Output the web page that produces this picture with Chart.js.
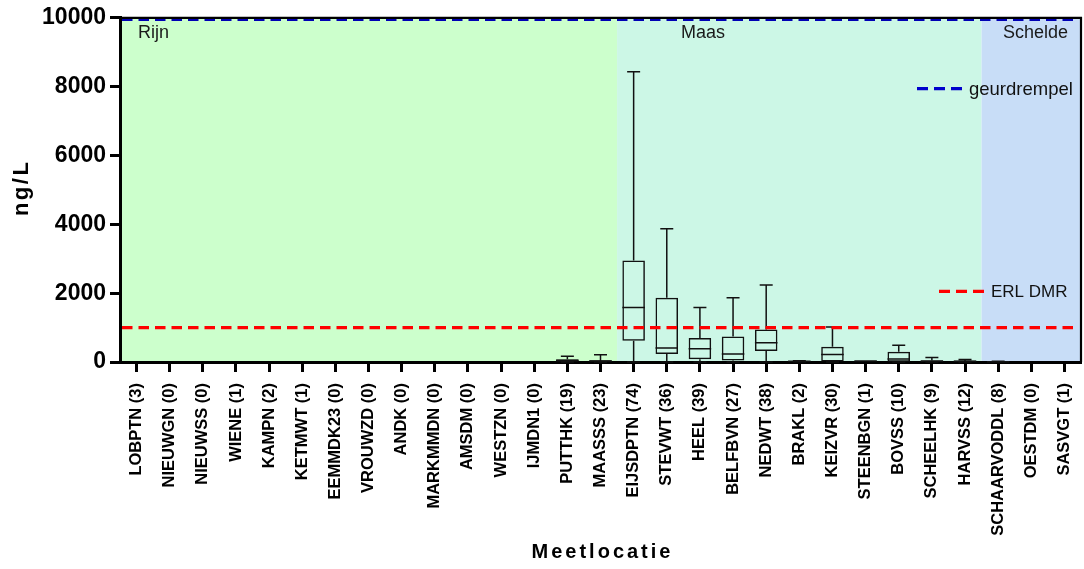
<!DOCTYPE html>
<html>
<head>
<meta charset="utf-8">
<title>Meetlocatie ng/L</title>
<script src="https://cdn.jsdelivr.net/npm/chart.js@4/dist/chart.umd.min.js"></script>
<style>
  html, body { margin: 0; padding: 0; background: #ffffff; }
  #wrap { width: 1084px; height: 569px; position: relative; }
</style>
</head>
<body>
<div id="wrap"><canvas id="chart"></canvas></div>
<script>
// Measuring locations (number of measurements in brackets)
const categories = [
  'LOBPTN (3)', 'NIEUWGN (0)', 'NIEUWSS (0)', 'WIENE (1)', 'KAMPN (2)', 'KETMWT (1)',
  'EEMMDK23 (0)', 'VROUWZD (0)', 'ANDK (0)', 'MARKMMDN (0)', 'AMSDM (0)', 'WESTZN (0)',
  'IJMDN1 (0)', 'PUTTHK (19)', 'MAASSS (23)', 'EIJSDPTN (74)', 'STEVWT (36)', 'HEEL (39)',
  'BELFBVN (27)', 'NEDWT (38)', 'BRAKL (2)', 'KEIZVR (30)', 'STEENBGN (1)', 'BOVSS (10)',
  'SCHEELHK (9)', 'HARVSS (12)', 'SCHAARVODDL (8)', 'OESTDM (0)', 'SASVGT (1)'
];

// Box plot statistics per location (ng/L); null = nothing to draw
const whiskerLow  = [null, null, null, null, null, null, null, null, null, null, null, null, null,
  0, 0, 0, 0, 0, 0, 0, 10, 0, 30, 0, 0, 0, 0, null, null];
const quartile1   = [null, null, null, null, null, null, null, null, null, null, null, null, null,
  10, 10, 615, 230, 80, 40, 320, 15, 15, 30, 10, 5, 10, 5, null, null];
const medians     = [null, null, null, null, null, null, null, null, null, null, null, null, null,
  40, 30, 1580, 410, 385, 230, 560, 20, 220, 30, 90, 20, 25, 10, null, null];
const quartile3   = [null, null, null, null, null, null, null, null, null, null, null, null, null,
  80, 50, 2950, 1870, 700, 740, 945, 30, 440, 30, 300, 50, 45, 20, null, null];
const whiskerHigh = [null, null, null, null, null, null, null, null, null, null, null, null, null,
  170, 210, 8430, 3870, 1580, 1870, 2240, 35, 1020, 30, 490, 130, 70, 25, null, null];

// River basins: name and first location index of each basin
const regionNames  = ['Rijn', 'Maas', 'Schelde'];
const regionStarts = [0, 15, 26];

// Reference levels (ng/L)
const erlDmr = 1000;
const geurdrempel = 10000;

// Y axis ticks
const yTicks = [0, 2000, 4000, 6000, 8000, 10000];

const FONT = '"Liberation Sans", Arial, Helvetica, sans-serif';
const regionColors = ['#ccffcc', '#ccf7e6', '#c8ddf7'];

function edgeAt(xs, area, k) {
  if (k <= 0) return area.left;
  if (k >= categories.length) return area.right;
  return (xs.getPixelForValue(k - 1) + xs.getPixelForValue(k)) / 2;
}

// Coloured basin bands behind everything
const basinBands = {
  id: 'basinBands',
  beforeDraw(chart) {
    const { ctx, chartArea: a, scales: { x } } = chart;
    ctx.save();
    regionNames.forEach((name, r) => {
      const x0 = edgeAt(x, a, regionStarts[r]);
      const x1 = edgeAt(x, a, r + 1 < regionStarts.length ? regionStarts[r + 1] : categories.length);
      ctx.fillStyle = regionColors[r];
      ctx.fillRect(x0, a.top, x1 - x0, a.bottom - a.top);
    });
    ctx.fillStyle = '#1a1a1a';
    ctx.font = '18px ' + FONT;
    ctx.textBaseline = 'middle';
    regionNames.forEach((name, r) => {
      const x0 = edgeAt(x, a, regionStarts[r]);
      const x1 = edgeAt(x, a, r + 1 < regionStarts.length ? regionStarts[r + 1] : categories.length);
      const ty = a.top + 15;
      if (r === 0) { ctx.textAlign = 'left'; ctx.fillText(name, x0 + 18, ty); }
      else if (r === regionNames.length - 1) { ctx.textAlign = 'right'; ctx.fillText(name, x1 - 13, ty); }
      else { ctx.textAlign = 'left'; ctx.fillText(name, x0 + 64, ty); }
    });
    ctx.restore();
  }
};

// Whiskers, medians, reference lines, labels and frame
const boxExtras = {
  id: 'boxExtras',
  afterDatasetsDraw(chart) {
    const { ctx, chartArea: a, scales: { y } } = chart;
    const meta = chart.getDatasetMeta(0);
    ctx.save();
    ctx.strokeStyle = '#111111';
    ctx.lineWidth = 1.5;
    meta.data.forEach((bar, i) => {
      if (quartile1[i] == null) return;
      const cx = bar.x, w = bar.width;
      const yHi = y.getPixelForValue(whiskerHigh[i]);
      const yQ3 = y.getPixelForValue(quartile3[i]);
      const yQ1 = y.getPixelForValue(quartile1[i]);
      const yLo = y.getPixelForValue(whiskerLow[i]);
      const yMed = y.getPixelForValue(medians[i]);
      ctx.beginPath();
      ctx.moveTo(cx, yHi); ctx.lineTo(cx, yQ3);
      ctx.moveTo(cx, yQ1); ctx.lineTo(cx, yLo);
      ctx.moveTo(cx - 6.5, yHi); ctx.lineTo(cx + 6.5, yHi);
      ctx.moveTo(cx - 6.5, yLo); ctx.lineTo(cx + 6.5, yLo);
      ctx.moveTo(cx - w / 2, yMed); ctx.lineTo(cx + w / 2, yMed);
      ctx.stroke();
    });

    // reference levels
    ctx.lineWidth = 3.2;
    ctx.setLineDash([10.5, 6]);
    ctx.strokeStyle = '#ff0000';
    const yErl = y.getPixelForValue(erlDmr);
    ctx.beginPath(); ctx.moveTo(a.left + 2, yErl); ctx.lineTo(a.right - 4, yErl); ctx.stroke();
    ctx.strokeStyle = '#0000b4';
    const yGeur = y.getPixelForValue(geurdrempel) + 1.5;
    ctx.beginPath(); ctx.moveTo(a.left + 2, yGeur); ctx.lineTo(a.right - 4, yGeur); ctx.stroke();

    // in-plot keys for the reference levels
    ctx.setLineDash([11, 6]);
    ctx.textAlign = 'left';
    ctx.textBaseline = 'middle';
    const keys = [
      { text: 'geurdrempel', color: '#0000cc', y: y.getPixelForValue(7940), textX: a.right - 112, size: 18.5 },
      { text: 'ERL DMR', color: '#ff0000', y: y.getPixelForValue(2050), textX: a.right - 90, size: 17 }
    ];
    keys.forEach(k => {
      ctx.strokeStyle = k.color;
      ctx.beginPath(); ctx.moveTo(k.textX - 52, k.y); ctx.lineTo(k.textX - 6, k.y); ctx.stroke();
      ctx.fillStyle = '#111111';
      ctx.font = k.size + 'px ' + FONT;
      ctx.fillText(k.text, k.textX, k.y + 1);
    });
    ctx.setLineDash([]);

    // top and right frame
    ctx.strokeStyle = '#000000';
    ctx.lineWidth = 2.2;
    ctx.beginPath();
    ctx.moveTo(a.left, a.top); ctx.lineTo(a.right, a.top); ctx.lineTo(a.right, a.bottom);
    ctx.stroke();
    ctx.restore();
  },
  afterDraw(chart) {
    const { ctx, chartArea: a } = chart;
    ctx.save();
    ctx.fillStyle = '#000000';
    ctx.font = 'bold 20px ' + FONT;
    ctx.textAlign = 'center';
    ctx.textBaseline = 'middle';
    ctx.letterSpacing = '3px';
    ctx.fillText('Meetlocatie', (a.left + a.right) / 2 + 2, 552);
    ctx.font = 'bold 22px ' + FONT;
    ctx.letterSpacing = '2.5px';
    ctx.translate(22, (a.top + a.bottom) / 2);
    ctx.rotate(-Math.PI / 2);
    ctx.fillText('ng/L', 2, 0);
    ctx.restore();
  }
};

new Chart(document.getElementById('chart'), {
  type: 'bar',
  data: {
    labels: categories,
    datasets: [{
      label: 'ng/L',
      data: categories.map((c, i) => quartile1[i] == null ? null : [quartile1[i], quartile3[i]]),
      backgroundColor: 'rgba(0,0,0,0)',
      borderColor: '#111111',
      borderWidth: 1.5,
      borderSkipped: false,
      barPercentage: 0.68,
      categoryPercentage: 1.0
    }]
  },
  options: {
    responsive: true,
    maintainAspectRatio: false,
    animation: false,
    layout: { padding: { top: 15, right: 3, left: 0, bottom: 0 } },
    plugins: { legend: { display: false }, tooltip: { enabled: false } },
    scales: {
      x: {
        offset: true,
        grid: { display: true, drawOnChartArea: false, offset: false, tickLength: 10, tickWidth: 3, tickColor: '#000' },
        border: { display: true, color: '#000', width: 3 },
        ticks: {
          autoSkip: false, minRotation: 90, maxRotation: 90, padding: 11,
          color: '#000', font: { family: FONT, size: 16.5, weight: 'bold' }
        },
        afterFit(scale) {
          scale.height = 207;
          scale.paddingLeft = 0;
          scale.paddingRight = 0;
        }
      },
      y: {
        min: 0, max: 10000,
        afterBuildTicks(scale) { scale.ticks = yTicks.map(v => ({ value: v })); },
        grid: { display: true, drawOnChartArea: false, tickLength: 10, tickWidth: 3, tickColor: '#000' },
        border: { display: true, color: '#000', width: 3 },
        ticks: {
          padding: 4, color: '#000',
          font: { family: FONT, size: 23, weight: 'bold' },
          callback: v => String(v)
        },
        afterFit(scale) { scale.width = 120; }
      }
    }
  },
  plugins: [basinBands, boxExtras]
});
</script>
</body>
</html>
